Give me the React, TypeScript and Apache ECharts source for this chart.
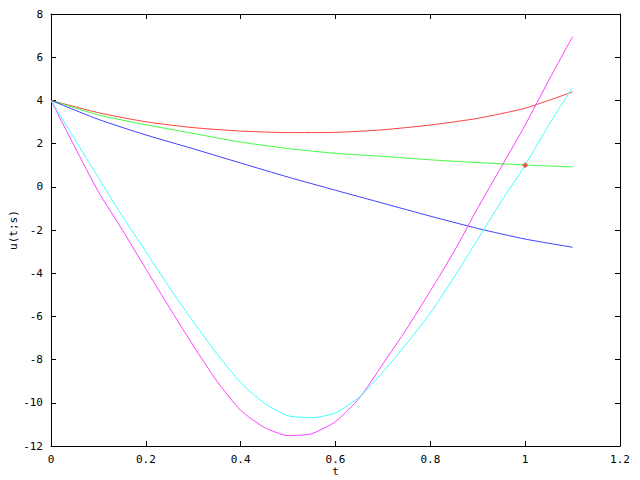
import React, { useEffect, useRef } from 'react';
import * as echarts from 'echarts';

const tCoarse = [0, 0.1, 0.2, 0.3, 0.4, 0.5, 0.6, 0.7, 0.8, 0.9, 1.0, 1.1];
const redU = [4, 3.43, 3.01, 2.74, 2.58, 2.51, 2.52, 2.64, 2.86, 3.17, 3.64, 4.39];
const greenU = [4, 3.33, 2.87, 2.47, 2.07, 1.77, 1.55, 1.41, 1.25, 1.12, 1.01, 0.92];
const blueU = [4, 3.12, 2.4, 1.76, 1.1, 0.45, -0.16, -0.76, -1.36, -1.93, -2.42, -2.8];

const tFine = [0, 0.05, 0.1, 0.15, 0.2, 0.25, 0.3, 0.35, 0.4, 0.45, 0.5, 0.55, 0.6, 0.65, 0.7, 0.75, 0.8, 0.85, 0.9, 0.95, 1.0, 1.05, 1.1];
const cyanU = [4, 2.2, 0.42, -1.35, -3.0, -4.67, -6.24, -7.74, -9.06, -10.02, -10.6, -10.69, -10.47, -9.74, -8.57, -7.26, -5.84, -4.19, -2.43, -0.66, 1.0, 2.87, 4.6];
const magentaU = [4, 1.85, -0.23, -1.98, -3.8, -5.6, -7.35, -9.0, -10.35, -11.14, -11.52, -11.43, -10.87, -9.79, -8.2, -6.58, -4.82, -3.0, -0.98, 0.93, 2.86, 4.94, 6.95];

const targetT = [1];
const targetU = [1];

const xTicks = { min: 0, max: 1.2, interval: 0.2 };
const yTicks = { min: -12, max: 8, interval: 2 };

const FONT = 'DejaVu Sans Mono';

function pairs(ts: number[], us: number[]) {
  return ts.map((t, i) => [t, us[i]]);
}

export default function App() {
  const ref = useRef<HTMLDivElement>(null);
  useEffect(() => {
    if (!ref.current) return;
    const chart = echarts.init(ref.current, undefined, { renderer: 'svg' });
    const axisLine = { show: true, onZero: false, lineStyle: { color: '#000', width: 1 } };
    const tick = { show: true, inside: true, length: 5, lineStyle: { color: '#000' } };
    const label = { color: '#000', fontFamily: FONT, fontSize: 11 };
    const line = (name: string, color: string, data: number[][]) => ({
      name,
      type: 'line',
      data,
      showSymbol: false,
      smooth: 0.2,
      lineStyle: { color, width: 1 },
      itemStyle: { color },
      xAxisIndex: 0,
      yAxisIndex: 0,
      z: 3,
    });
    chart.setOption({
      animation: false,
      backgroundColor: '#fff',
      grid: { left: 51, right: 20, top: 14, bottom: 34, containLabel: false, outerBoundsMode: 'none' },
      xAxis: [
        {
          type: 'value',
          ...xTicks,
          position: 'bottom',
          axisLine,
          axisTick: tick,
          axisLabel: { ...label, margin: 8 },
          splitLine: { show: false },
          name: 't',
          nameLocation: 'middle',
          nameGap: 20,
          nameMoveOverlap: false,
          nameTextStyle: { ...label },
        },
        {
          type: 'value',
          ...xTicks,
          position: 'top',
          axisLine,
          axisTick: tick,
          axisLabel: { show: false },
          splitLine: { show: false },
        },
      ],
      yAxis: [
        {
          type: 'value',
          ...yTicks,
          position: 'left',
          axisLine,
          axisTick: tick,
          axisLabel: { ...label, margin: 8 },
          splitLine: { show: false },
          name: 'u(t;s)',
          nameLocation: 'middle',
          nameGap: 32,
          nameMoveOverlap: false,
          nameRotate: 90,
          nameTextStyle: { ...label },
        },
        {
          type: 'value',
          ...yTicks,
          position: 'right',
          axisLine,
          axisTick: tick,
          axisLabel: { show: false },
          splitLine: { show: false },
        },
      ],
      series: [
        line('red', '#ff4040', pairs(tCoarse, redU)),
        line('green', '#40ff40', pairs(tCoarse, greenU)),
        line('blue', '#4040ff', pairs(tCoarse, blueU)),
        line('magenta', '#ff40ff', pairs(tFine, magentaU)),
        line('cyan', '#40ffff', pairs(tFine, cyanU)),
        {
          name: 'target',
          type: 'scatter',
          data: pairs(targetT, targetU),
          symbol: 'diamond',
          symbolSize: 6,
          itemStyle: { color: '#ff3030' },
          xAxisIndex: 0,
          yAxisIndex: 0,
          z: 5,
        },
      ],
    });
    return () => chart.dispose();
  }, []);
  return (
    <div
      ref={ref}
      style={{ position: 'fixed', left: 0, top: 0, width: 640, height: 480, background: '#fff' }}
    />
  );
}
